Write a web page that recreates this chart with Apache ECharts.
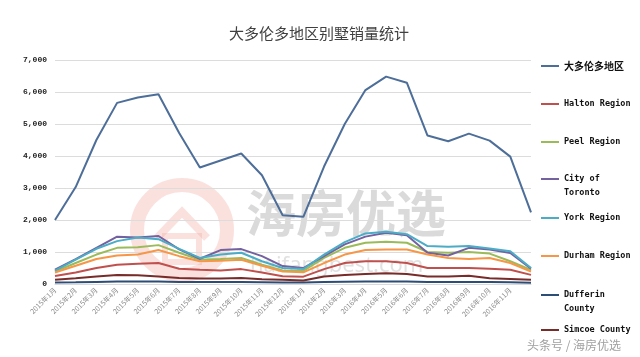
<!DOCTYPE html>
<html><head><meta charset="utf-8">
<script src="https://cdn.jsdelivr.net/npm/echarts@6/dist/echarts.min.js"></script>
<style>html,body{margin:0;padding:0;background:#fff}#c{width:640px;height:357px}</style>
</head><body><div id="c"></div>
<script>
var categories = ['2015年1月','2015年2月','2015年3月','2015年4月','2015年5月','2015年6月','2015年7月','2015年8月','2015年9月','2015年10月','2015年11月','2015年12月','2016年1月','2016年2月','2016年3月','2016年4月','2016年5月','2016年6月','2016年7月','2016年8月','2016年9月','2016年10月','2016年11月','2016年12月'];
var gta      = [2000,3030,4500,5660,5830,5930,4720,3640,3860,4080,3400,2150,2100,3670,5000,6060,6480,6290,4640,4460,4700,4480,3980,2240];
var halton   = [250,360,500,600,635,655,475,445,420,465,360,240,230,465,655,710,710,655,500,500,500,475,445,285];
var peel     = [390,655,920,1130,1150,1215,975,760,783,815,600,420,410,815,1130,1290,1320,1290,1000,975,1000,950,710,440];
var toronto  = [445,780,1130,1480,1450,1500,1080,790,1060,1090,870,560,500,870,1240,1480,1600,1520,975,890,1130,1080,970,480];
var york     = [420,760,1100,1340,1450,1400,1100,815,920,975,710,500,470,920,1310,1580,1630,1555,1185,1165,1185,1110,1025,500];
var durham   = [360,570,783,890,920,1060,870,710,730,760,570,390,365,655,920,1060,1080,1080,920,815,783,815,655,390];
var dufferin = [50,55,65,75,75,75,65,60,60,60,55,45,45,60,70,80,80,75,65,65,65,60,55,40];
var simcoe   = [130,180,235,285,275,235,190,170,170,190,150,130,110,235,285,315,335,315,235,235,255,180,160,130];
var yTicks = [0,1000,2000,3000,4000,5000,6000,7000];

var names = ['大多伦多地区','Halton Region','Peel Region','City of Toronto','York Region','Durham Region','Dufferin County','Simcoe County'];
var labels = ['大多伦多地区','Halton Region','Peel Region','City of\nToronto','York Region','Durham Region','Dufferin\nCounty','Simcoe County'];
var datas = [gta,halton,peel,toronto,york,durham,dufferin,simcoe];
var colors = ['#4D6E99','#C0504D','#9BBB59','#7461A0','#4BACC6','#F79646','#2C4D75','#772C2A'];
var widths = [2,2,2,2,2,2,2,2];
var legendY = [61,99,137,174,213,251,290,325];

var series = names.map(function(n,i){
  return {name:n,type:'line',data:datas[i],symbol:'none',smooth:false,
    lineStyle:{color:colors[i],width:widths[i]},itemStyle:{color:colors[i]},z:3};
});
var legendFont = {fontFamily:'DejaVu Sans Mono, Noto Sans CJK SC, monospace',fontWeight:'bold',fontSize:8.5,color:'#111',lineHeight:14,
  rich:{c:{fontFamily:'Noto Sans CJK SC',fontWeight:'bold',fontSize:10,color:'#111'}}};
var legends = names.map(function(n,i){
  var multi = labels[i].indexOf('\n')>=0;
  var ts = Object.assign({}, legendFont);
  if(multi){ ts.padding=[14,0,0,0]; }
  return {data:[n],orient:'vertical',left:536,top:multi?legendY[i]-21:legendY[i]-7,
    icon:'rect',itemWidth:18,itemHeight:2,
    formatter:function(){return i===0?'{c|'+labels[i]+'}':labels[i];},textStyle:ts,selectedMode:false};
});

var chart = echarts.init(document.getElementById('c'),null,{renderer:'canvas'});
chart.setOption({
  animation:false,
  backgroundColor:'#fff',
  title:{text:'大多伦多地区别墅销量统计',left:314,top:21,textAlign:'center',
    textStyle:{fontFamily:'Noto Sans CJK SC',fontSize:15,fontWeight:'normal',color:'#404040'}},
  legend:legends,
  grid:{left:55,right:109,top:60,bottom:73},
  xAxis:{type:'category',data:categories,boundaryGap:false,
    axisLine:{show:true,lineStyle:{color:'#d9d9d9'}},axisTick:{show:false},
    axisLabel:{rotate:45,fontSize:7,color:'#8a8a8a',fontFamily:'Noto Sans CJK SC',margin:5,
      interval:function(idx){return idx<23;}}},
  yAxis:{type:'value',min:yTicks[0],max:yTicks[yTicks.length-1],interval:1000,
    axisLine:{show:false},axisTick:{show:false},
    splitLine:{lineStyle:{color:'#dcdcdc',width:1}},
    axisLabel:{margin:8,fontSize:8,fontWeight:'bold',color:'#222',fontFamily:'Liberation Mono, monospace',
      formatter:function(v){return v===0?'0':v.toLocaleString('en-US');}}},
  graphic:[
    {type:'circle',shape:{cx:182,cy:230,r:45},style:{fill:'none',stroke:'rgba(240,170,160,0.35)',lineWidth:14},z:0,silent:true},
    {type:'polyline',shape:{points:[[157,238],[182,212],[207,238]]},style:{fill:'none',stroke:'rgba(240,170,160,0.35)',lineWidth:8},z:0,silent:true},
    {type:'rect',shape:{x:165,y:236,width:34,height:26},style:{fill:'none',stroke:'rgba(240,170,160,0.35)',lineWidth:6},z:0,silent:true},
    {type:'text',left:246,top:188,style:{text:'海房优选',font:'bold 50px "Noto Sans CJK SC"',fill:'rgba(150,150,150,0.35)'},z:0,silent:true},
    {type:'text',left:250,top:255,style:{text:'haifangbest.com',font:'22px "Noto Sans"',fill:'rgba(170,170,170,0.35)'},z:0,silent:true},
    {type:'text',left:527,top:339,style:{text:'头条号 / 海房优选',font:'12px "Noto Sans CJK SC"',fill:'#a0a0a0'},z:10,silent:true}
  ],
  series:series
});
</script></body></html>
